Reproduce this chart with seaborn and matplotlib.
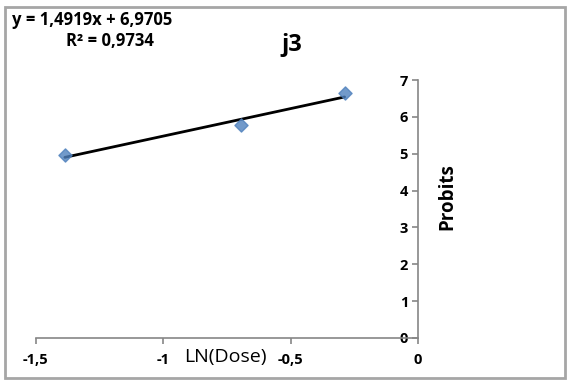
import numpy as np
import pandas as pd
import seaborn as sns
import matplotlib.pyplot as plt
from matplotlib.patches import Rectangle

# data ---------
dose = [0.25, 0.5, 0.75]
probits = [4.96, 5.78, 6.64]
x_ticks = [-1.5, -1.0, -0.5, 0.0]
x_labels = ["-1,5", "-1", "-0,5", "0"]
y_ticks = [0, 1, 2, 3, 4, 5, 6, 7]

df = pd.DataFrame({"ln_dose": np.log(dose), "probit": probits})

sns.set_theme(style="white")
plt.rcParams["font.family"] = ["Open Sans", "DejaVu Sans"]
plt.rcParams["text.color"] = "black"

fig = plt.figure(figsize=(5.7, 3.83), dpi=100)
ax = fig.add_axes([0.063, 0.1175, 0.670, 0.6735])

sns.regplot(data=df, x="ln_dose", y="probit", ax=ax, ci=None, marker="D",
            scatter_kws={"color": "#4f81bd", "s": 45, "zorder": 3},
            line_kws={"color": "black", "lw": 2, "zorder": 2})

ax.set_xlim(-1.5, 0)
ax.set_ylim(0, 7)
ax.set_xticks(x_ticks)
ax.set_xticklabels(x_labels)
ax.set_yticks(y_ticks)
ax.set_xlabel("")
ax.set_ylabel("")

grey = "#868686"
for s in ["top", "right"]:
    ax.spines[s].set_visible(False)
ax.spines["left"].set_position(("data", 0))
ax.spines["left"].set_color(grey)
ax.spines["bottom"].set_color(grey)
ax.spines["left"].set_linewidth(1.2)
ax.spines["bottom"].set_linewidth(1.2)
ax.tick_params(axis="both", direction="out", length=4, width=1.2, color=grey,
               labelsize=10.5, labelcolor="black", pad=3, bottom=True, left=True)
ax.tick_params(axis="x", pad=7)
for t in ax.get_xticklabels() + ax.get_yticklabels():
    t.set_fontweight("bold")
ax.set_facecolor("white")
ax.patch.set_alpha(0)

# texts
fig.text(225 / 570, 1 - 357 / 383, "LN(Dose)", fontsize=14, ha="center", va="center")
fig.text(292 / 570, 1 - 45 / 383, "j3", fontsize=17, fontweight="bold", ha="center", va="center")
fig.text(447 / 570, 1 - 197 / 383, "Probits", fontsize=13.5, fontweight="bold",
         rotation=90, ha="center", va="center")
fig.text(12 / 570, 1 - 20 / 383, "y = 1,4919x + 6,9705", fontsize=12,
         fontweight="bold", ha="left", va="center")
fig.text(110 / 570, 1 - 41 / 383, "R² = 0,9734", fontsize=12,
         fontweight="bold", ha="center", va="center")

fig.patches.append(Rectangle((5 / 570, 5 / 383), 560 / 570, 371 / 383,
                             transform=fig.transFigure, fill=False,
                             edgecolor="#a6a6a6", lw=2))

fig.savefig("out.png", dpi=100, facecolor="white")
